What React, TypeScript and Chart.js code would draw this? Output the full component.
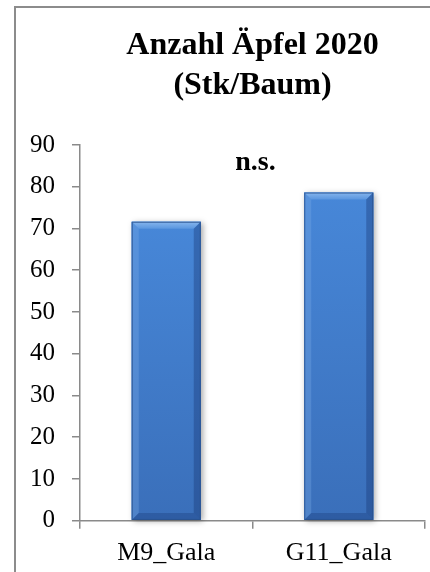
import { useEffect, useRef } from "react";
import { Chart, registerables } from "chart.js";

Chart.register(...registerables);

const categories = ["M9_Gala", "G11_Gala"];
const values = [71.6, 78.6];
const yTickValues = [0, 10, 20, 30, 40, 50, 60, 70, 80, 90];
const titleLines = ["Anzahl Äpfel 2020", "(Stk/Baum)"];
const annotationText = "n.s.";
const annotationLevel = 84;

const SERIF = "'Liberation Serif', 'Times New Roman', serif";
const AXIS_COLOR = "#8a8a8a";

const framePlugin = {
  id: "frame",
  beforeDraw(chart: any) {
    const ctx = chart.ctx;
    ctx.save();
    ctx.fillStyle = "#ffffff";
    ctx.fillRect(0, 0, chart.width, chart.height);
    ctx.strokeStyle = "#8c8c8c";
    ctx.lineWidth = 2;
    ctx.beginPath();
    ctx.moveTo(15, chart.height);
    ctx.lineTo(15, 7);
    ctx.lineTo(chart.width, 7);
    ctx.stroke();
    ctx.restore();
  },
};

const bevelPlugin = {
  id: "bevel",
  beforeDatasetsDraw(chart: any) {
    const ctx = chart.ctx;
    chart.getDatasetMeta(0).data.forEach((bar: any) => {
      const { x, y, base, width } = bar.getProps(["x", "y", "base", "width"], true);
      ctx.save();
      ctx.shadowColor = "rgba(0,0,0,0.35)";
      ctx.shadowBlur = 6;
      ctx.shadowOffsetX = 2;
      ctx.shadowOffsetY = 1;
      ctx.fillStyle = "#3f7bd0";
      ctx.fillRect(x - width / 2, y, width, base - y);
      ctx.restore();
    });
  },
  afterDatasetsDraw(chart: any) {
    const ctx = chart.ctx;
    chart.getDatasetMeta(0).data.forEach((bar: any) => {
      const { x, y, base, width } = bar.getProps(["x", "y", "base", "width"], true);
      const l = x - width / 2;
      const r = x + width / 2;
      const t = y;
      const b = base;
      const d = 7;
      ctx.save();
      const g = ctx.createLinearGradient(0, t, 0, b);
      g.addColorStop(0, "#4787d8");
      g.addColorStop(1, "#3a6fba");
      ctx.fillStyle = g;
      ctx.fillRect(l, t, width, b - t);
      // top bevel
      const gt = ctx.createLinearGradient(0, t, 0, t + d);
      gt.addColorStop(0, "#86b5ec");
      gt.addColorStop(1, "#5a96df");
      ctx.fillStyle = gt;
      ctx.beginPath();
      ctx.moveTo(l, t);
      ctx.lineTo(r, t);
      ctx.lineTo(r - d, t + d);
      ctx.lineTo(l + d, t + d);
      ctx.closePath();
      ctx.fill();
      // left bevel
      ctx.fillStyle = "rgba(120,170,230,0.35)";
      ctx.beginPath();
      ctx.moveTo(l, t);
      ctx.lineTo(l + d, t + d);
      ctx.lineTo(l + d, b - d);
      ctx.lineTo(l, b);
      ctx.closePath();
      ctx.fill();
      // right bevel
      ctx.fillStyle = "rgba(20,50,110,0.35)";
      ctx.beginPath();
      ctx.moveTo(r, t);
      ctx.lineTo(r - d, t + d);
      ctx.lineTo(r - d, b - d);
      ctx.lineTo(r, b);
      ctx.closePath();
      ctx.fill();
      // bottom bevel
      ctx.fillStyle = "rgba(20,50,110,0.3)";
      ctx.beginPath();
      ctx.moveTo(l, b);
      ctx.lineTo(l + d, b - d);
      ctx.lineTo(r - d, b - d);
      ctx.lineTo(r, b);
      ctx.closePath();
      ctx.fill();
      // outline
      ctx.strokeStyle = "rgba(40,80,140,0.8)";
      ctx.lineWidth = 1;
      ctx.strokeRect(l + 0.5, t + 0.5, width - 1, b - t - 1);
      ctx.restore();
    });
  },
};

const annotationPlugin = {
  id: "nsAnnotation",
  afterDraw(chart: any) {
    const ctx = chart.ctx;
    const xs = chart.scales.x;
    const ys = chart.scales.y;
    const px = (xs.getPixelForValue(0) + xs.getPixelForValue(1)) / 2;
    const py = ys.getPixelForValue(annotationLevel);
    ctx.save();
    ctx.font = `bold 28px ${SERIF}`;
    ctx.fillStyle = "#000";
    ctx.textAlign = "center";
    ctx.textBaseline = "alphabetic";
    ctx.fillText(annotationText, px + 3, py);
    ctx.restore();
  },
};

export default function App() {
  const canvasRef = useRef<HTMLCanvasElement | null>(null);

  useEffect(() => {
    if (!canvasRef.current) return;
    const chart = new Chart(canvasRef.current, {
      type: "bar",
      data: {
        labels: categories,
        datasets: [
          {
            data: values,
            backgroundColor: "#4282d4",
            categoryPercentage: 0.8,
            barPercentage: 0.5,
          },
        ],
      },
      options: {
        animation: false,
        responsive: true,
        maintainAspectRatio: false,
        devicePixelRatio: 1,
        layout: { padding: { top: 0, right: 5, bottom: 0, left: 0 } },
        plugins: {
          legend: { display: false },
          tooltip: { enabled: false },
          title: {
            display: true,
            text: titleLines,
            fullSize: false,
            color: "#000",
            font: { family: SERIF, size: 32, weight: "bold", lineHeight: 1.25 },
            padding: { top: 26, bottom: 39 },
          },
        },
        scales: {
          x: {
            grid: {
              display: true,
              drawOnChartArea: false,
              drawTicks: true,
              tickLength: 8,
              color: AXIS_COLOR,
              lineWidth: 1.5,
              offset: true,
            },
            border: { display: true, color: AXIS_COLOR, width: 1.5 },
            ticks: {
              color: "#000",
              padding: 9,
              font: { family: SERIF, size: 26, lineHeight: 1.2 },
            },
            afterFit(scale: any) {
              scale.height = 51.3;
            },
          },
          y: {
            min: yTickValues[0],
            max: yTickValues[yTickValues.length - 1],
            grid: {
              display: true,
              drawOnChartArea: false,
              drawTicks: true,
              tickLength: 8,
              color: AXIS_COLOR,
              lineWidth: 1.5,
            },
            border: { display: true, color: AXIS_COLOR, width: 1.5 },
            ticks: {
              stepSize: yTickValues[1] - yTickValues[0],
              color: "#000",
              padding: 17,
              font: { family: SERIF, size: 25, lineHeight: 1.2 },
            },
            afterFit(scale: any) {
              scale.width = 80;
            },
          },
        },
      },
      plugins: [framePlugin, bevelPlugin, annotationPlugin],
    });
    return () => chart.destroy();
  }, []);

  return (
    <div style={{ position: "fixed", left: 0, top: 0, width: 430, height: 572 }}>
      <canvas ref={canvasRef} />
    </div>
  );
}
